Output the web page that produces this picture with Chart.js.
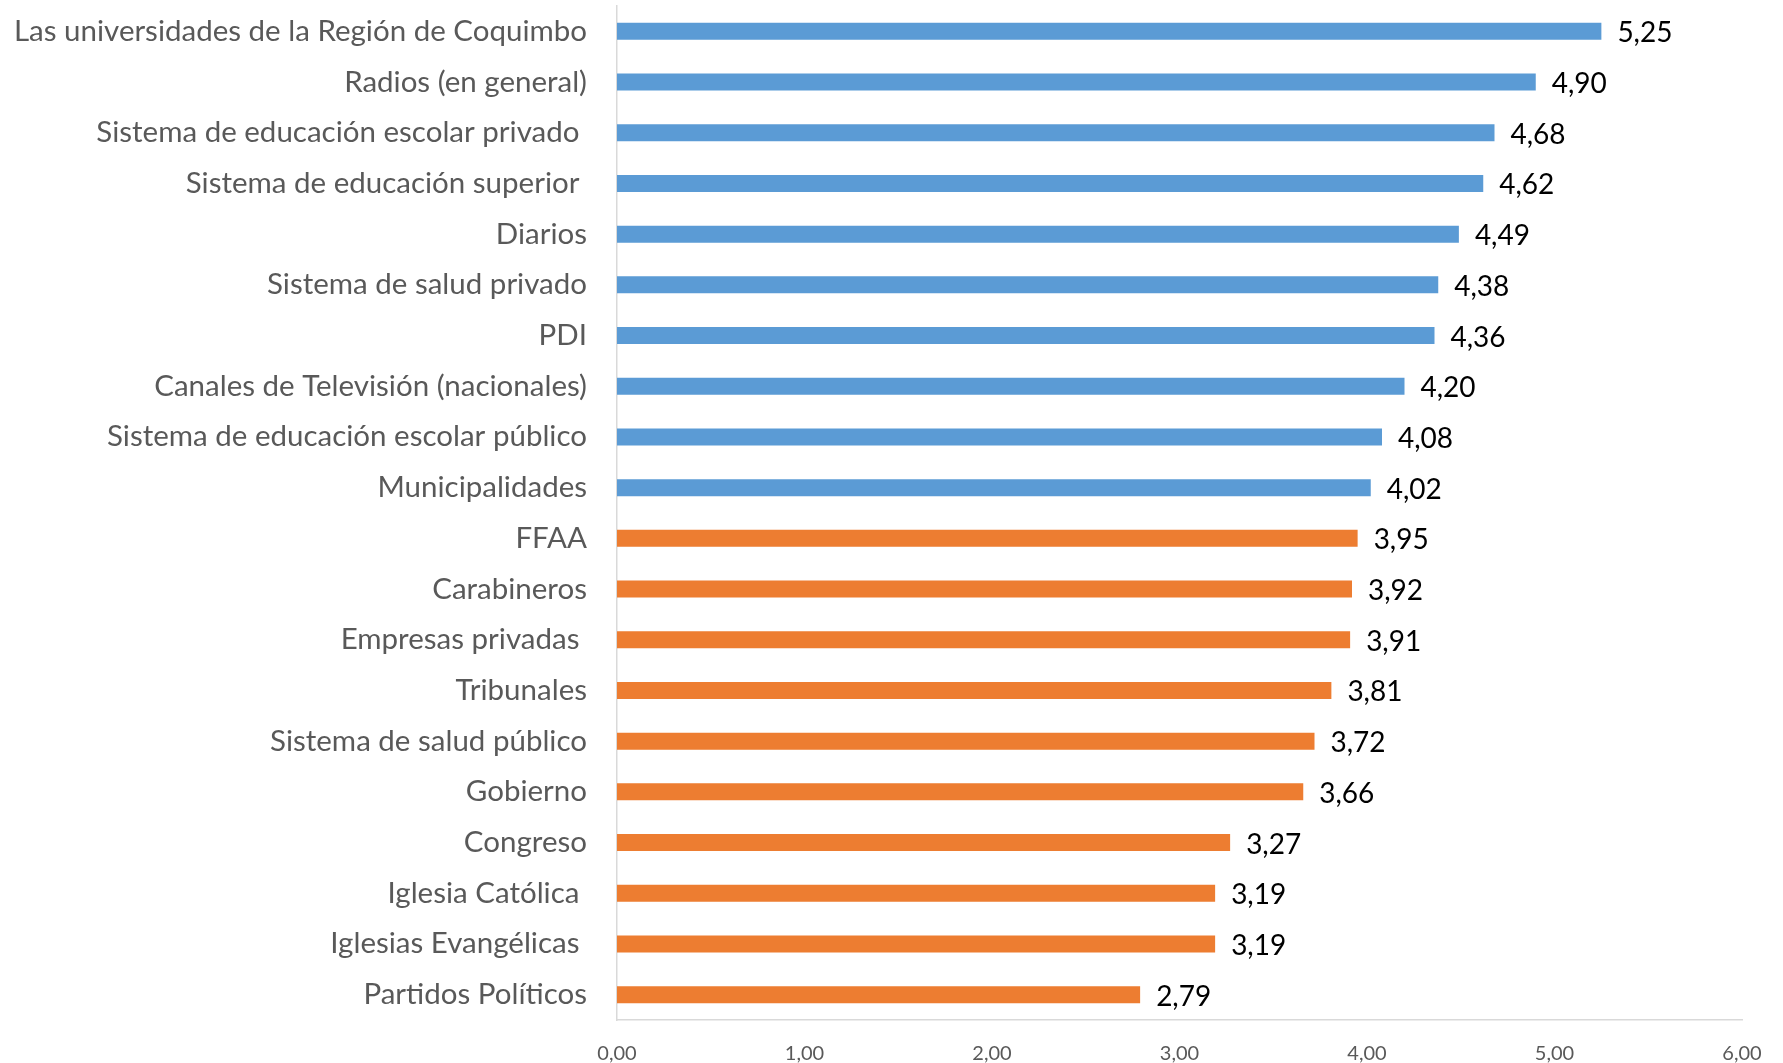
<!DOCTYPE html>
<html>
<head>
<meta charset="utf-8">
<script src="https://cdn.jsdelivr.net/npm/chart.js@4.4.1/dist/chart.umd.min.js"></script>
<style>
  html, body { margin: 0; padding: 0; background: #fff; }
  #wrap { width: 1783px; height: 1063px; }
</style>
</head>
<body>
<div id="wrap"><canvas id="myChart"></canvas></div>
<script>
'use strict';

// institutions, top to bottom
const categories = [
  'Las universidades de la Región de Coquimbo',
  'Radios (en general)',
  'Sistema de educación escolar privado ',
  'Sistema de educación superior ',
  'Diarios',
  'Sistema de salud privado',
  'PDI',
  'Canales de Televisión (nacionales)',
  'Sistema de educación escolar público',
  'Municipalidades',
  'FFAA',
  'Carabineros',
  'Empresas privadas ',
  'Tribunales',
  'Sistema de salud público',
  'Gobierno',
  'Congreso',
  'Iglesia Católica ',
  'Iglesias Evangélicas ',
  'Partidos Políticos',
];

// average score per institution
const scores = [5.25, 4.90, 4.68, 4.62, 4.49, 4.38, 4.36, 4.20, 4.08, 4.02,
  3.95, 3.92, 3.91, 3.81, 3.72, 3.66, 3.27, 3.19, 3.19, 2.79];

const xTicks = [0, 1, 2, 3, 4, 5, 6];
const threshold = 4; // scores at or above this are drawn blue

const BLUE = '#5B9BD5';
const ORANGE = '#ED7D31';
const FONT = 'Lato, "Open Sans", sans-serif';

function formatComma(v) {
  return Number(v).toFixed(2).replace('.', ',');
}

// writes the value next to the end of each bar
const valueLabels = {
  id: 'valueLabels',
  afterDatasetsDraw(chart) {
    const ctx = chart.ctx;
    const meta = chart.getDatasetMeta(0);
    ctx.save();
    ctx.font = '28px ' + FONT;
    ctx.fillStyle = '#000000';
    ctx.textAlign = 'left';
    ctx.textBaseline = 'middle';
    meta.data.forEach((bar, i) => {
      ctx.fillText(formatComma(scores[i]), bar.x + 16, bar.y + 2);
    });
    ctx.restore();
  },
};

const ctx = document.getElementById('myChart').getContext('2d');

const myChart = new Chart(ctx, {
  type: 'bar',
  data: {
    labels: categories,
    datasets: [
      {
        data: scores,
        backgroundColor: scores.map((v) => (v >= threshold ? BLUE : ORANGE)),
        barPercentage: 0.335,
        categoryPercentage: 1,
      },
    ],
  },
  options: {
    indexAxis: 'y',
    responsive: true,
    maintainAspectRatio: false,
    animation: false,
    layout: {
      padding: { top: 6, right: 41, left: 0, bottom: 0 },
    },
    scales: {
      x: {
        min: 0,
        max: 6,
        afterBuildTicks: (scale) => {
          scale.ticks = xTicks.map((v) => ({ value: v }));
        },
        afterFit: (scale) => {
          scale.height = 43;
          scale.paddingLeft = 0;
          scale.paddingRight = 0;
        },
        grid: { display: false, drawTicks: false },
        border: { display: true, color: '#d9d9d9', width: 1.5 },
        ticks: {
          padding: 22,
          color: '#595959',
          font: { family: FONT, size: 20 },
          callback: (v) => formatComma(v),
        },
      },
      y: {
        afterFit: (scale) => {
          scale.width = 617;
          scale.paddingTop = 0;
          scale.paddingBottom = 0;
        },
        grid: { display: false, drawTicks: false },
        border: { display: true, color: '#d9d9d9', width: 1.5 },
        ticks: {
          padding: 30,
          color: '#595959',
          font: { family: FONT, size: 29.5 },
          autoSkip: false,
        },
      },
    },
    plugins: {
      legend: { display: false },
      tooltip: { enabled: false },
    },
  },
  plugins: [valueLabels],
});
</script>
</body>
</html>
